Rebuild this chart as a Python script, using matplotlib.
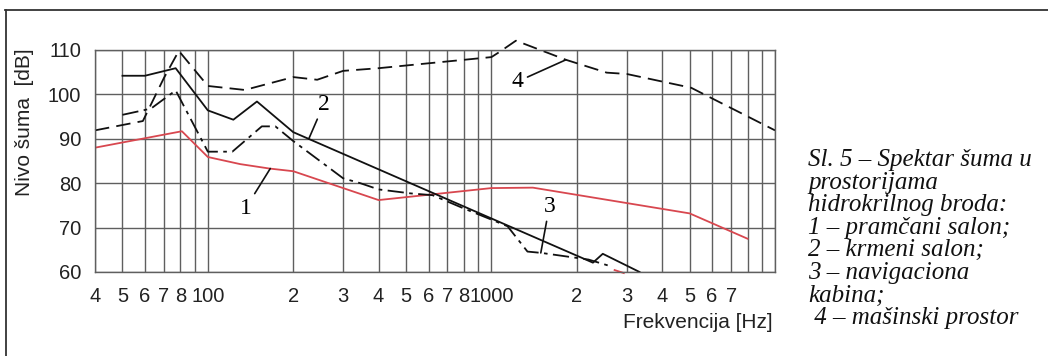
import matplotlib
matplotlib.use('Agg')
import matplotlib.pyplot as plt
from matplotlib.lines import Line2D


# podaci ocitani sa dijagrama (frekvencija [Hz], nivo [dB])
f1 = [40, 81, 100, 130, 165, 200, 400, 1000, 1400, 5000, 8000]
L1 = [88.0, 91.7, 85.9, 84.3, 83.3, 82.7, 76.2, 78.9, 79.0, 73.2, 67.5]

f2 = [50, 60, 77, 100, 123, 149, 200, 2280, 2470, 3330]
L2 = [104.2, 104.2, 105.9, 96.4, 94.3, 98.4, 91.5, 62.1, 64.1, 60.0]

f3 = [50, 63, 77, 100, 122, 155, 173, 200, 300, 345, 400, 520, 620, 800,
      1000, 1140, 1340, 1500, 2200, 2600]
L3 = [95.4, 96.8, 100.9, 87.1, 87.1, 92.8, 92.8, 89.5, 81.1, 80.0, 78.6,
      77.7, 77.3, 74.3, 71.8, 70.3, 64.6, 64.3, 62.8, 61.4]
f3_tail = [2700, 2950]
L3_tail = [60.5, 59.7]

f4 = [40, 59, 70, 79, 100, 135, 200, 243, 300, 400, 1000, 1070, 1220, 1830,
      2550, 3000, 5060, 10000]
L4 = [91.9, 94.0, 103.7, 109.8, 101.9, 101.0, 103.9, 103.3, 105.3, 105.9,
      108.4, 109.6, 112.1, 107.8, 104.9, 104.6, 101.5, 91.9]

grid_f = [40, 50, 60, 70, 80, 90, 100, 200, 300, 400, 500, 600, 700, 800, 900,
          1000, 2000, 3000, 4000, 5000, 6000, 7000, 8000, 9000, 10000]
grid_lbl = ['4', '5', '6', '7', '8', '', '100', '2', '3', '4', '5', '6', '7',
            '8', '', '1000', '2', '3', '4', '5', '6', '7', '', '', '']
y_ticks = [60, 70, 80, 90, 100, 110]

caption = ['Sl. 5 \u2013 Spektar šuma u',
           'prostorijama',
           'hidrokrilnog broda:',
           '1 \u2013 pramčani salon;',
           '2 \u2013 krmeni salon;',
           '3 \u2013 navigaciona',
           'kabina;',
           ' 4 \u2013 mašinski prostor']

W, H = 1048, 356
fig = plt.figure(figsize=(W / 100, H / 100), dpi=100)
ax = fig.add_axes([95 / W, 1 - 272 / H, 680 / W, 222 / H])

sans = ['Liberation Sans', 'DejaVu Sans']
serif = ['Liberation Serif', 'DejaVu Serif']
gcol = '#5f5f5f'

ax.set_xscale('log')
ax.set_xlim(40, 10000)
ax.set_ylim(60, 110)
ax.set_xticks(grid_f)
ax.set_xticklabels(grid_lbl, fontfamily=sans, fontsize=14.5, color='#222222')
ax.minorticks_off()
ax.set_yticks(y_ticks)
ax.set_yticklabels([str(v) for v in y_ticks], fontfamily=sans, fontsize=14.5,
                   color='#222222')
ax.tick_params(axis='both', length=0)
ax.tick_params(axis='x', pad=11)
ax.tick_params(axis='y', pad=10)
ax.grid(True, color=gcol, lw=1.0)
for s in ax.spines.values():
    s.set_color(gcol)
    s.set_linewidth(1.0)

lw = 1.3
ax.plot(f1, L1, color='#d8474f', lw=lw)
ax.plot(f2, L2, color='#111111', lw=lw)
ax.plot(f3, L3, color='#111111', lw=lw, dashes=(9, 3, 2, 3))
ax.plot(f3_tail, L3_tail, color='#d8474f', lw=lw, dashes=(9, 3, 2, 3), clip_on=False)
ax.plot(f4, L4, color='#111111', lw=lw, dashes=(8, 4), clip_on=False)

lead = dict(arrowstyle='-', color='#111111', lw=1.2, shrinkA=1, shrinkB=0)
ax.annotate('1', xy=(166, 83.3), xytext=(136, 74.4), fontfamily=serif,
            fontsize=17, ha='center', va='center', arrowprops=lead)
ax.annotate('2', xy=(227, 90.0), xytext=(256, 97.7), fontfamily=serif,
            fontsize=17, ha='center', va='center', arrowprops=lead)
ax.annotate('3', xy=(1493, 64.3), xytext=(1600, 74.7), fontfamily=serif,
            fontsize=17, ha='center', va='center', arrowprops=lead)
ax.annotate('4', xy=(1832, 107.8), xytext=(1236, 102.9), fontfamily=serif,
            fontsize=17, ha='center', va='center', arrowprops=lead)

fig.text(25 / W, 1 - 122 / H, 'Nivo šuma  [dB]', rotation=90, ha='center',
         va='center', fontfamily=sans, fontsize=15, color='#222222')
fig.text(773 / W, 1 - 323 / H, 'Frekvencija [Hz]', ha='right', va='center',
         fontfamily=sans, fontsize=15, color='#222222')

for i, line in enumerate(caption):
    fig.text(808 / W, 1 - (160 + 22.6 * i) / H, line, ha='left', va='center',
             fontfamily=serif, fontstyle='italic', fontsize=18, color='#111111')

# okvir oko slike
fig.add_artist(Line2D([5 / W, 1], [1 - 10 / H, 1 - 10 / H], transform=fig.transFigure,
                      color='#333333', lw=1.3))
fig.add_artist(Line2D([6 / W, 6 / W], [0, 1 - 10 / H], transform=fig.transFigure,
                      color='#333333', lw=1.3))

fig.savefig('out.png', dpi=100)
